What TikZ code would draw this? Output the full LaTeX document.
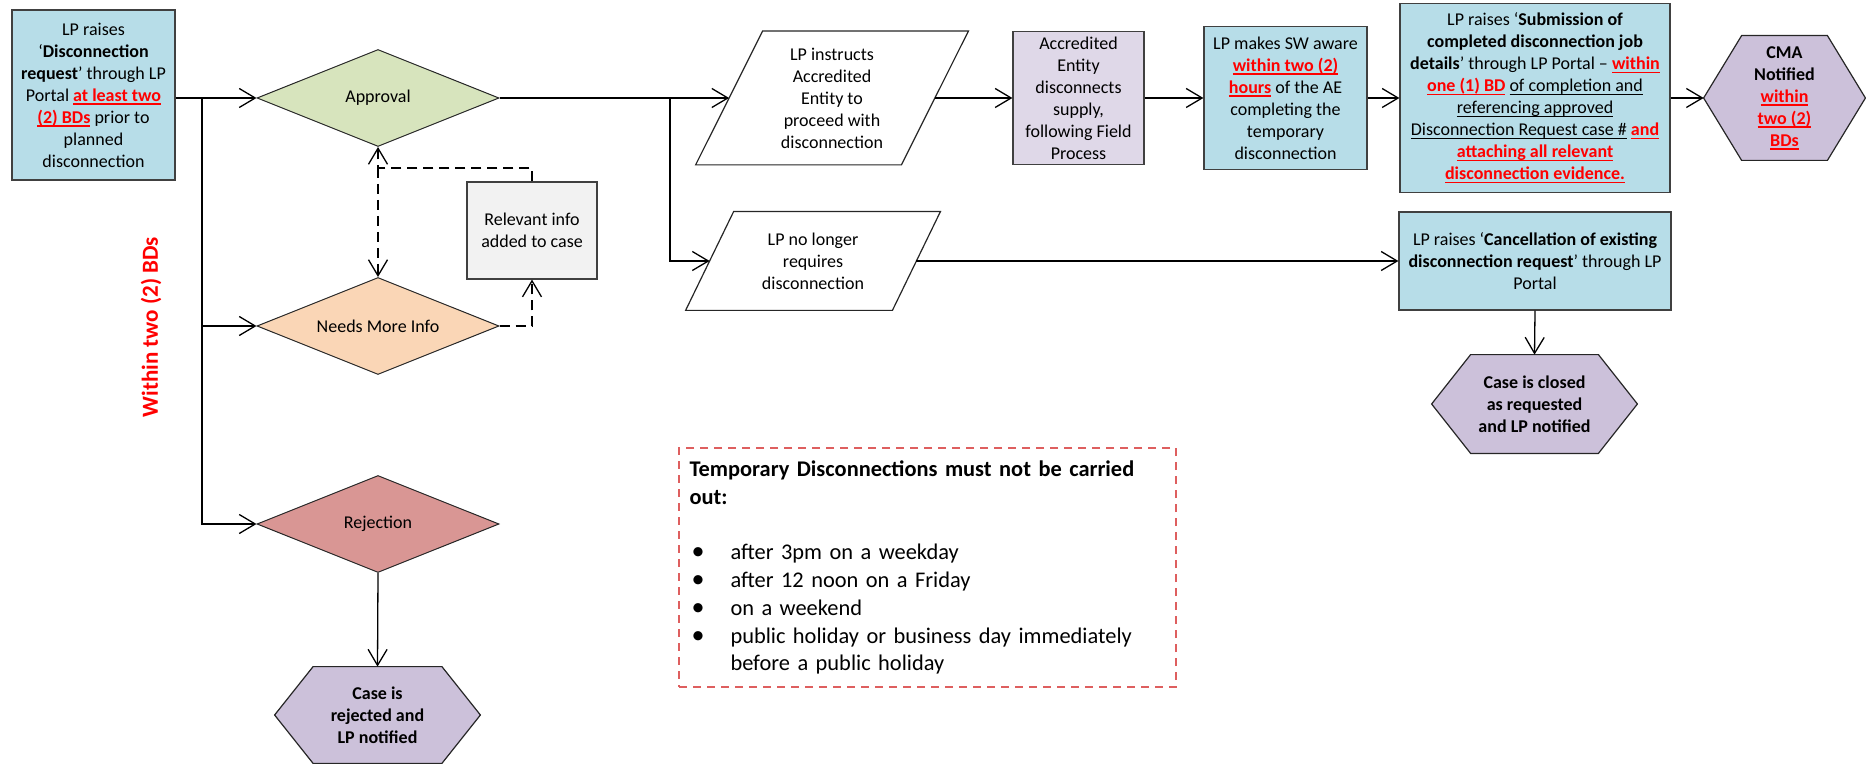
\documentclass[tikz,border=0pt]{standalone}
\usepackage{fontspec}
\setmainfont{Carlito}
\usetikzlibrary{arrows.meta,shapes.geometric,backgrounds,calc}
\definecolor{bluebox}{RGB}{183,221,232}
\definecolor{lavlight}{RGB}{223,216,232}
\definecolor{hexfill}{RGB}{204,193,218}
\definecolor{apprfill}{RGB}{215,228,189}
\definecolor{nmifill}{RGB}{250,214,182}
\definecolor{rejfill}{RGB}{217,150,148}
\definecolor{infofill}{RGB}{242,242,242}
\definecolor{notered}{RGB}{222,95,95}
\definecolor{redtxt}{RGB}{255,0,0}
\newcommand{\ulx}[1]{\leavevmode\setbox0=\hbox{#1}\hbox{\copy0\kern-\wd0\rule[-1.7pt]{\wd0}{0.6pt}}}
\newcommand{\ru}[1]{{\color{redtxt}\bfseries\ulx{#1}}}
\tikzset{
  basetxt/.style={font=\fontsize{9}{11}\selectfont, align=center, inner sep=0pt},
  boxnode/.style={basetxt, rectangle, draw=black!75, line width=0.6pt},
  dianode/.style={basetxt, diamond, aspect=2.5, draw=black!85, line width=0.5pt, minimum width=121pt, minimum height=48.5pt},
  shapeline/.style={draw=black!85, line width=0.6pt},
  arr/.style={line width=0.65pt, -{Straight Barb[length=8pt,width=9.5pt]}},
  darr/.style={arr, dash pattern=on 5pt off 3pt},
}
\begin{document}
\begin{tikzpicture}[x=0.5pt,y=-0.5pt]
\useasboundingbox (0,0) rectangle (1866,764);

% nodes
\node[boxnode, fill=bluebox, minimum width=81.5pt, minimum height=85pt] (req) at (93.5,95)
 {LP raises\\ ‘\textbf{Disconnection}\\ \textbf{request}’ through LP\\ Portal \ru{at least two}\\ \ru{(2) BDs} prior to\\ planned\\ disconnection};
\node[dianode, fill=apprfill] (appr) at (378,98) {Approval};
\node[dianode, fill=nmifill] (nmi) at (378,326) {Needs More Info};
\node[dianode, fill=rejfill] (rej) at (378,524) {Rejection};
\node[boxnode, fill=infofill, minimum width=65pt, minimum height=48.5pt] (info) at (532,230.5)
 {Relevant info\\ added to case};
\node[basetxt, minimum width=102.5pt, minimum height=48pt] (rejhex) at (377.5,715)
 {\textbf{Case is}\\ \textbf{rejected and}\\ \textbf{LP notified}};
\node[basetxt, minimum width=102.5pt, minimum height=66.5pt] (p1) at (832,98)
 {LP instructs\\ Accredited\\ Entity to\\ proceed with\\ disconnection};
\node[basetxt, minimum width=103pt, minimum height=49pt] (p2) at (813,261)
 {LP no longer\\ requires\\ disconnection};
\node[boxnode, fill=lavlight, minimum width=65.5pt, minimum height=66.5pt] (acc) at (1078.5,98)
 {Accredited\\ Entity\\ disconnects\\ supply,\\ following Field\\ Process};
\node[boxnode, fill=bluebox, minimum width=81.5pt, minimum height=71.5pt] (sw) at (1285.5,98)
 {LP makes SW aware\\ \ru{within two (2)}\\ \ru{hours} of the AE\\ completing the\\ temporary\\ disconnection};
\node[boxnode, fill=bluebox, minimum width=135pt, minimum height=94.5pt] (sub) at (1535,98)
 {LP raises ‘\textbf{Submission of}\\ \textbf{completed disconnection job}\\ \textbf{details}’ through LP Portal -- \ru{within}\\ \ru{one (1) BD} \ulx{of completion and}\\ \ulx{referencing approved}\\ \ulx{Disconnection Request case \#} \ru{and}\\ \ru{attaching all relevant}\\ \ru{disconnection evidence.}};
\node[basetxt, minimum width=80.5pt, minimum height=62pt] (cma) at (1784.5,98)
 {\textbf{CMA}\\ \textbf{Notified}\\ \ru{within}\\ \ru{two (2)}\\ \ru{BDs}};
\node[boxnode, fill=bluebox, minimum width=136pt, minimum height=49pt] (canc) at (1535,261)
 {LP raises ‘\textbf{Cancellation of existing}\\ \textbf{disconnection request}’ through LP\\ Portal};
\node[basetxt, minimum width=102.5pt, minimum height=49pt] (closehex) at (1534.5,404)
 {\textbf{Case is closed}\\ \textbf{as requested}\\ \textbf{and LP notified}};
\node[rotate=90, inner sep=0pt, text=redtxt, font=\bfseries\fontsize{11.5}{14}\selectfont] (within) at (151,327)
 {Within two (2) BDs};
\node[draw=notered, dash pattern=on 4pt off 3pt, line width=0.6pt, inner xsep=5pt, inner ysep=0pt,
      minimum width=248.5pt, minimum height=119.5pt, text width=238pt, align=left,
      font=\fontsize{11.2}{13.9}\selectfont] (note) at (927.5,567.5)
 {\textbf{Temporary Disconnections must not be carried}\\
  \textbf{out:}\\[13.9pt]
  \makebox[20.5pt][l]{\hspace{1pt}{\fontsize{13}{13.9}\selectfont\textbullet}}after 3pm on a weekday\\
  \makebox[20.5pt][l]{\hspace{1pt}{\fontsize{13}{13.9}\selectfont\textbullet}}after 12 noon on a Friday\\
  \makebox[20.5pt][l]{\hspace{1pt}{\fontsize{13}{13.9}\selectfont\textbullet}}on a weekend\\
  \makebox[20.5pt][l]{\hspace{1pt}{\fontsize{13}{13.9}\selectfont\textbullet}}public holiday or business day immediately\\
  \hspace*{20.5pt}before a public holiday};

% shapes drawn behind the text
\begin{pgfonlayer}{background}
\path[shapeline, fill=hexfill] (rejhex.west) -- ([xshift=19.25pt]rejhex.north west) -- ([xshift=-19.25pt]rejhex.north east)
  -- (rejhex.east) -- ([xshift=-19.25pt]rejhex.south east) -- ([xshift=19.25pt]rejhex.south west) -- cycle;
\path[shapeline, fill=hexfill] (closehex.west) -- ([xshift=19.5pt]closehex.north west) -- ([xshift=-19.5pt]closehex.north east)
  -- (closehex.east) -- ([xshift=-19.5pt]closehex.south east) -- ([xshift=19.5pt]closehex.south west) -- cycle;
\path[shapeline, fill=hexfill] (cma.west) -- ([xshift=19pt]cma.north west) -- ([xshift=-19pt]cma.north east)
  -- (cma.east) -- ([xshift=-19pt]cma.south east) -- ([xshift=19pt]cma.south west) -- cycle;
\path[shapeline, fill=white] ([xshift=16.75pt]p1.north west) -- ([xshift=16.75pt]p1.north east)
  -- ([xshift=-16.75pt]p1.south east) -- ([xshift=-16.75pt]p1.south west) -- cycle;
\path[shapeline, fill=white] ([xshift=12pt]p2.north west) -- ([xshift=12pt]p2.north east)
  -- ([xshift=-12pt]p2.south east) -- ([xshift=-12pt]p2.south west) -- cycle;
\end{pgfonlayer}

% connectors
\coordinate (t1) at (202,98);
\coordinate (t2) at (670,98);
\coordinate (dj) at (378,168);
\draw[arr] (req.east |- t1) -- (appr.west);
\draw[arr] (t1) |- (nmi.west);
\draw[arr] (t1) |- (rej.west);
\draw[arr] (appr.east) -- (p1.west);
\draw[arr] (t2) |- (p2.west);
\draw[arr] (p1.east) -- (acc.west);
\draw[arr] (acc.east) -- (sw.west);
\draw[arr] (sw.east) -- (sub.west);
\draw[arr] (sub.east) -- (cma.west);
\draw[arr] (p2.east) -- (canc.west);
\draw[arr] (canc.south) -- (closehex.north);
\draw[arr] (rej.south) -- (rejhex.north);
\draw[darr] (nmi.east) -| (info.south);
\draw[darr] (info.north) |- (dj) -- (appr.south);
\draw[darr] (dj) -- (nmi.north);
\end{tikzpicture}
\end{document}
